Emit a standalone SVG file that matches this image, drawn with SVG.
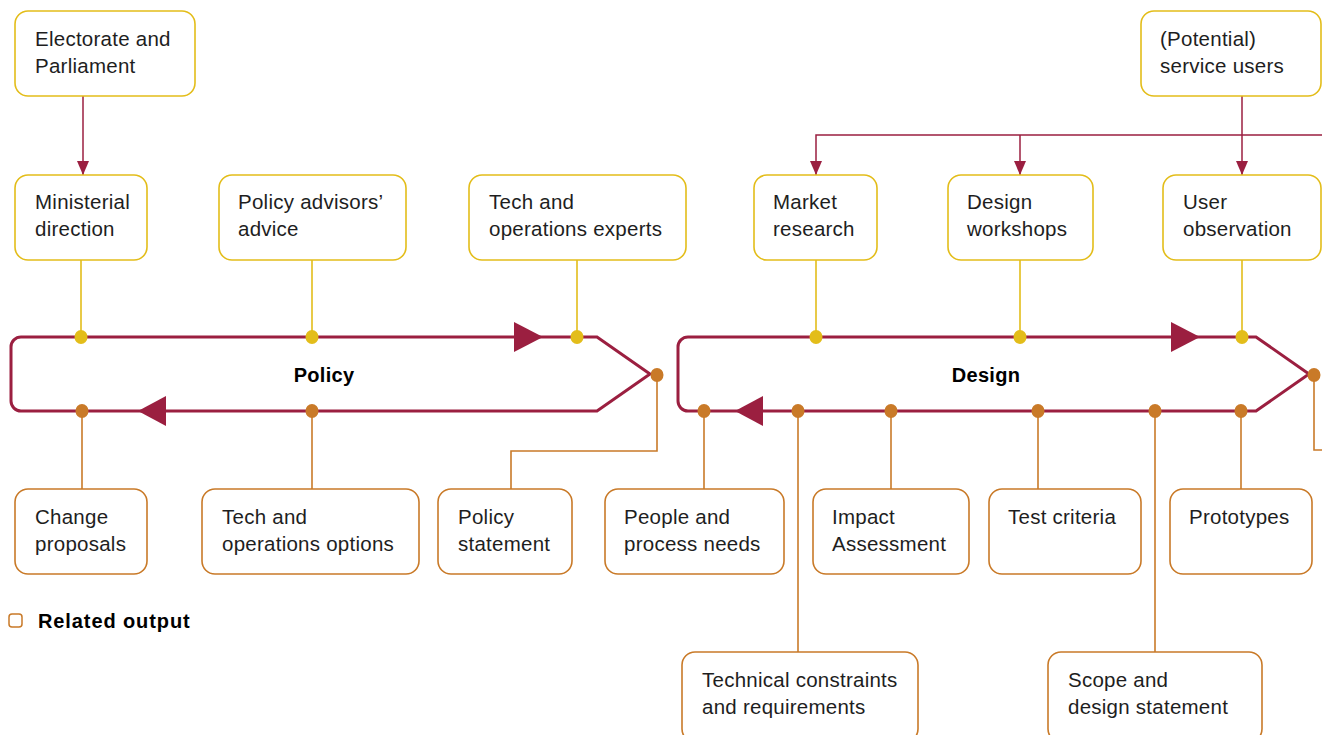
<svg xmlns="http://www.w3.org/2000/svg" width="1322" height="735" viewBox="0 0 1322 735">
<defs>
<style>
.bg{fill:#fff}
.ny rect{fill:#fff;stroke:#e3bd1a;stroke-width:1.6}
.no rect{fill:#fff;stroke:#c97a28;stroke-width:1.6}
text{font-family:"Liberation Sans",Arial,sans-serif;font-size:20.5px;letter-spacing:0.25px;fill:#1e1e1e}
.lbl{font-weight:bold;font-size:20px;letter-spacing:0.3px;fill:#000}
.loop{fill:none;stroke:#9b1f40;stroke-width:3;stroke-linejoin:miter}
.tri{fill:#9b1f40}
.cm{fill:none;stroke:#9b1f40;stroke-width:1.5}
.cy{fill:none;stroke:#e3bd1a;stroke-width:1.6}
.co{fill:none;stroke:#c97a28;stroke-width:1.6}
.dy{fill:#e3bd1a}
.do{fill:#c97a28}
</style>
<marker id="ahd" viewBox="0 0 12 14" refX="6" refY="14" markerWidth="12" markerHeight="14" markerUnits="userSpaceOnUse" orient="0">
<path d="M0,0 L12,0 L6,14 Z" fill="#9b1f40"/>
</marker>
</defs>
<rect class="bg" x="0" y="0" width="1322" height="735"/>

<g id="connectors">
<line class="cm" x1="83" y1="96" x2="83" y2="175" marker-end="url(#ahd)"/>
<line class="cm" x1="1242" y1="96" x2="1242" y2="175" marker-end="url(#ahd)"/>
<path class="cm" d="M1322,135 H816 V175" marker-end="url(#ahd)"/>
<line class="cm" x1="1020" y1="135" x2="1020" y2="175" marker-end="url(#ahd)"/>

<line class="cy" x1="81" y1="260" x2="81" y2="337"/>
<line class="cy" x1="312" y1="260" x2="312" y2="337"/>
<line class="cy" x1="577" y1="260" x2="577" y2="337"/>
<line class="cy" x1="816" y1="260" x2="816" y2="337"/>
<line class="cy" x1="1020" y1="260" x2="1020" y2="337"/>
<line class="cy" x1="1242" y1="260" x2="1242" y2="337"/>

<line class="co" x1="82" y1="411" x2="82" y2="489"/>
<line class="co" x1="312" y1="411" x2="312" y2="489"/>
<path class="co" d="M657,375 V451 H511 V489"/>
<line class="co" x1="704" y1="411" x2="704" y2="489"/>
<line class="co" x1="798" y1="411" x2="798" y2="652"/>
<line class="co" x1="891" y1="411" x2="891" y2="489"/>
<line class="co" x1="1038" y1="411" x2="1038" y2="489"/>
<line class="co" x1="1155" y1="411" x2="1155" y2="652"/>
<line class="co" x1="1241" y1="411" x2="1241" y2="489"/>
<path class="co" d="M1314,375 V450 H1322"/>
</g>

<g id="policy-loop">
<path class="loop" d="M21,337 H597 L650,374 L597,411 H21 A10,10 0 0 1 11,401 V347 A10,10 0 0 1 21,337 Z"/>
<polygon class="tri" points="514,322 514,352 543,337"/>
<polygon class="tri" points="166,396 166,426 138,411"/>
<text class="lbl" x="324" y="382" text-anchor="middle">Policy</text>
<ellipse class="dy" cx="81" cy="337" rx="6.5" ry="7"/>
<ellipse class="dy" cx="312" cy="337" rx="6.5" ry="7"/>
<ellipse class="dy" cx="577" cy="337" rx="6.5" ry="7"/>
<ellipse class="do" cx="82" cy="411" rx="6.5" ry="7"/>
<ellipse class="do" cx="312" cy="411" rx="6.5" ry="7"/>
<ellipse class="do" cx="657" cy="375" rx="6.5" ry="7"/>
</g>

<g id="design-loop">
<path class="loop" d="M688,337 H1256 L1309,374 L1256,411 H688 A10,10 0 0 1 678,401 V347 A10,10 0 0 1 688,337 Z"/>
<polygon class="tri" points="1171,322 1171,352 1200,337"/>
<polygon class="tri" points="763,396 763,426 735,411"/>
<text class="lbl" x="986" y="382" text-anchor="middle">Design</text>
<ellipse class="dy" cx="816" cy="337" rx="6.5" ry="7"/>
<ellipse class="dy" cx="1020" cy="337" rx="6.5" ry="7"/>
<ellipse class="dy" cx="1242" cy="337" rx="6.5" ry="7"/>
<ellipse class="do" cx="704" cy="411" rx="6.5" ry="7"/>
<ellipse class="do" cx="798" cy="411" rx="6.5" ry="7"/>
<ellipse class="do" cx="891" cy="411" rx="6.5" ry="7"/>
<ellipse class="do" cx="1038" cy="411" rx="6.5" ry="7"/>
<ellipse class="do" cx="1155" cy="411" rx="6.5" ry="7"/>
<ellipse class="do" cx="1241" cy="411" rx="6.5" ry="7"/>
<ellipse class="do" cx="1314" cy="375" rx="6.5" ry="7"/>
</g>

<g id="electorate" class="ny"><rect x="15" y="11" width="180" height="85" rx="13"/><text x="35" y="46">Electorate and</text><text x="35" y="73">Parliament</text></g>
<g id="service-users" class="ny"><rect x="1141" y="11" width="180" height="85" rx="13"/><text x="1160" y="46">(Potential)</text><text x="1160" y="73">service users</text></g>
<g id="ministerial" class="ny"><rect x="15" y="175" width="132" height="85" rx="13"/><text x="35" y="209">Ministerial</text><text x="35" y="236">direction</text></g>
<g id="policy-advisors" class="ny"><rect x="219" y="175" width="187" height="85" rx="13"/><text x="238" y="209">Policy advisors’</text><text x="238" y="236">advice</text></g>
<g id="tech-experts" class="ny"><rect x="469" y="175" width="217" height="85" rx="13"/><text x="489" y="209">Tech and</text><text x="489" y="236">operations experts</text></g>
<g id="market-research" class="ny"><rect x="754" y="175" width="123" height="85" rx="13"/><text x="773" y="209">Market</text><text x="773" y="236">research</text></g>
<g id="design-workshops" class="ny"><rect x="948" y="175" width="145" height="85" rx="13"/><text x="967" y="209">Design</text><text x="967" y="236">workshops</text></g>
<g id="user-observation" class="ny"><rect x="1163" y="175" width="158" height="85" rx="13"/><text x="1183" y="209">User</text><text x="1183" y="236">observation</text></g>

<g id="change-proposals" class="no"><rect x="15" y="489" width="132" height="85" rx="13"/><text x="35" y="524">Change</text><text x="35" y="551">proposals</text></g>
<g id="tech-options" class="no"><rect x="202" y="489" width="217" height="85" rx="13"/><text x="222" y="524">Tech and</text><text x="222" y="551">operations options</text></g>
<g id="policy-statement" class="no"><rect x="438" y="489" width="134" height="85" rx="13"/><text x="458" y="524">Policy</text><text x="458" y="551">statement</text></g>
<g id="people-process" class="no"><rect x="605" y="489" width="179" height="85" rx="13"/><text x="624" y="524">People and</text><text x="624" y="551">process needs</text></g>
<g id="impact-assessment" class="no"><rect x="813" y="489" width="156" height="85" rx="13"/><text x="832" y="524">Impact</text><text x="832" y="551">Assessment</text></g>
<g id="test-criteria" class="no"><rect x="989" y="489" width="152" height="85" rx="13"/><text x="1008" y="524">Test criteria</text></g>
<g id="prototypes" class="no"><rect x="1170" y="489" width="142" height="85" rx="13"/><text x="1189" y="524">Prototypes</text></g>
<g id="tech-constraints" class="no"><rect x="682" y="652" width="236" height="90" rx="13"/><text x="702" y="687">Technical constraints</text><text x="702" y="714">and requirements</text></g>
<g id="scope-design" class="no"><rect x="1048" y="652" width="214" height="90" rx="13"/><text x="1068" y="687">Scope and</text><text x="1068" y="714">design statement</text></g>

<g id="legend">
<rect x="9" y="614" width="13" height="13" rx="3" fill="#fff" stroke="#c97a28" stroke-width="1.5"/>
<text class="lbl" x="38" y="628" style="font-size:20px;letter-spacing:0.9px">Related output</text>
</g>
</svg>
